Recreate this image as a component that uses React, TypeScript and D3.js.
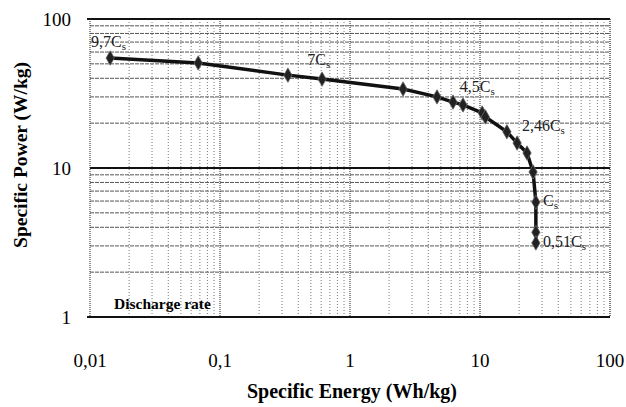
import * as d3 from "d3";
import { useEffect, useRef } from "react";

const energy = [0.0143, 0.068, 0.333, 0.61, 2.56, 4.67, 6.2, 7.4, 10.4, 11, 16.1, 19.3, 23, 25.6, 26.9, 26.9, 26.9];
const power = [54.7, 50.7, 42, 39.5, 33.9, 30, 27.7, 26.5, 23.4, 22, 17.5, 14.7, 12.6, 9.4, 5.9, 3.7, 3.14];
const rateLabels = [
  { base: "9,7C", e: 0.0102, p: 70 },
  { base: "7C", e: 0.47, p: 53 },
  { base: "4,5C", e: 7.0, p: 35 },
  { base: "2,46C", e: 21, p: 19 },
  { base: "C", e: 30.5, p: 6.0 },
  { base: "0,51C", e: 30.5, p: 3.2 },
];
const xTicks = [0.01, 0.1, 1, 10, 100];
const yTicks = [1, 10, 100];
const xTickText = ["0,01", "0,1", "1", "10", "100"];

function App() {
  const svgRef = useRef<SVGSVGElement>(null);

  useEffect(() => {
    const svg = d3.select(svgRef.current);
    svg.selectAll("*").remove();
    const font = "'Liberation Serif', 'DejaVu Serif', serif";

    const x = d3.scaleLog().domain([0.01, 100]).range([90, 610]);
    const y = d3.scaleLog().domain([1, 100]).range([317, 19]);

    const grid = svg.append("g");
    // minor grid
    const minorX: number[] = [];
    for (let d = 0.01; d < 100; d *= 10) for (let k = 2; k < 10; k++) minorX.push(d * k);
    const minorY: number[] = [];
    for (let d = 1; d < 100; d *= 10) for (let k = 2; k < 10; k++) minorY.push(d * k);

    grid.selectAll(".mx").data(minorX).join("line")
      .attr("x1", (d) => x(d)).attr("x2", (d) => x(d))
      .attr("y1", y(100)).attr("y2", y(1))
      .attr("stroke", "#555").attr("stroke-width", 0.8).attr("stroke-dasharray", "1,2");
    grid.selectAll(".my").data(minorY).join("line")
      .attr("x1", x(0.01)).attr("x2", x(100))
      .attr("y1", (d) => y(d)).attr("y2", (d) => y(d))
      .attr("stroke", "#555").attr("stroke-width", 1).attr("stroke-dasharray", "4,1");
    // major
    grid.selectAll(".Mx").data([0.1, 1, 10]).join("line")
      .attr("x1", (d) => x(d)).attr("x2", (d) => x(d))
      .attr("y1", y(100)).attr("y2", y(1))
      .attr("stroke", "#222").attr("stroke-width", 1).attr("stroke-dasharray", "1,1");
    grid.selectAll(".My").data([10]).join("line")
      .attr("x1", x(0.01)).attr("x2", x(100))
      .attr("y1", (d) => y(d)).attr("y2", (d) => y(d))
      .attr("stroke", "#111").attr("stroke-width", 1.8);

    // frame
    svg.append("line").attr("x1", x(0.01) - 3).attr("x2", x(100)).attr("y1", y(100)).attr("y2", y(100))
      .attr("stroke", "#111").attr("stroke-width", 1.8);
    svg.append("line").attr("x1", x(0.01) - 3).attr("x2", x(100)).attr("y1", y(1)).attr("y2", y(1))
      .attr("stroke", "#111").attr("stroke-width", 1.8);
    svg.append("line").attr("x1", x(0.01)).attr("x2", x(0.01)).attr("y1", y(100)).attr("y2", y(1))
      .attr("stroke", "#222").attr("stroke-width", 1).attr("stroke-dasharray", "1,1");
    svg.append("line").attr("x1", x(100)).attr("x2", x(100)).attr("y1", y(100)).attr("y2", y(1))
      .attr("stroke", "#222").attr("stroke-width", 1.2).attr("stroke-dasharray", "1,1");

    // tick labels
    svg.selectAll(".yt").data(yTicks).join("text")
      .attr("x", 71).attr("y", (d) => y(d) + 7)
      .attr("text-anchor", "end").attr("font-family", font).attr("font-size", 19)
      .text((d) => String(d));
    svg.selectAll(".xt").data(xTicks).join("text")
      .attr("x", (d) => x(d)).attr("y", 367)
      .attr("text-anchor", "middle").attr("font-family", font).attr("font-size", 19)
      .text((d, i) => xTickText[i]);

    // titles
    svg.append("text").attr("x", 352).attr("y", 398).attr("text-anchor", "middle")
      .attr("font-family", font).attr("font-size", 20).attr("font-weight", "bold")
      .text("Specific Energy (Wh/kg)");
    svg.append("text").attr("transform", "translate(27,155) rotate(-90)").attr("text-anchor", "middle")
      .attr("font-family", font).attr("font-size", 19.5).attr("font-weight", "bold")
      .text("Specific Power (W/kg)");

    // line
    const pts = energy.map((e, i) => [e, power[i]] as [number, number]);
    const line = d3.line<[number, number]>().x((d) => x(d[0])).y((d) => y(d[1]));
    svg.append("path").datum(pts).attr("d", line).attr("fill", "none")
      .attr("stroke", "#111").attr("stroke-width", 3.5);
    svg.selectAll(".pt").data(pts).join("path")
      .attr("transform", (d) => `translate(${x(d[0])},${y(d[1])})`)
      .attr("d", d3.symbol(d3.symbolDiamond, 60)())
      .attr("fill", "#222").attr("stroke", "#666").attr("stroke-width", 0.8);

    // rate labels
    const lbl = svg.selectAll(".rl").data(rateLabels).join("text")
      .attr("x", (d) => x(d.e)).attr("y", (d) => y(d.p) + 5)
      .attr("font-family", font).attr("font-size", 16).attr("fill", "#222");
    lbl.append("tspan").text((d) => d.base);
    lbl.append("tspan").attr("font-size", 11).attr("dy", 3).text("s");

    svg.append("text").attr("x", 114).attr("y", 309)
      .attr("font-family", font).attr("font-size", 15.5).attr("font-weight", "bold")
      .text("Discharge rate");
  }, []);

  return (
    <svg ref={svgRef} width={626} height={407} style={{ position: "absolute", left: 0, top: 0 }}></svg>
  );
}

export default App;
